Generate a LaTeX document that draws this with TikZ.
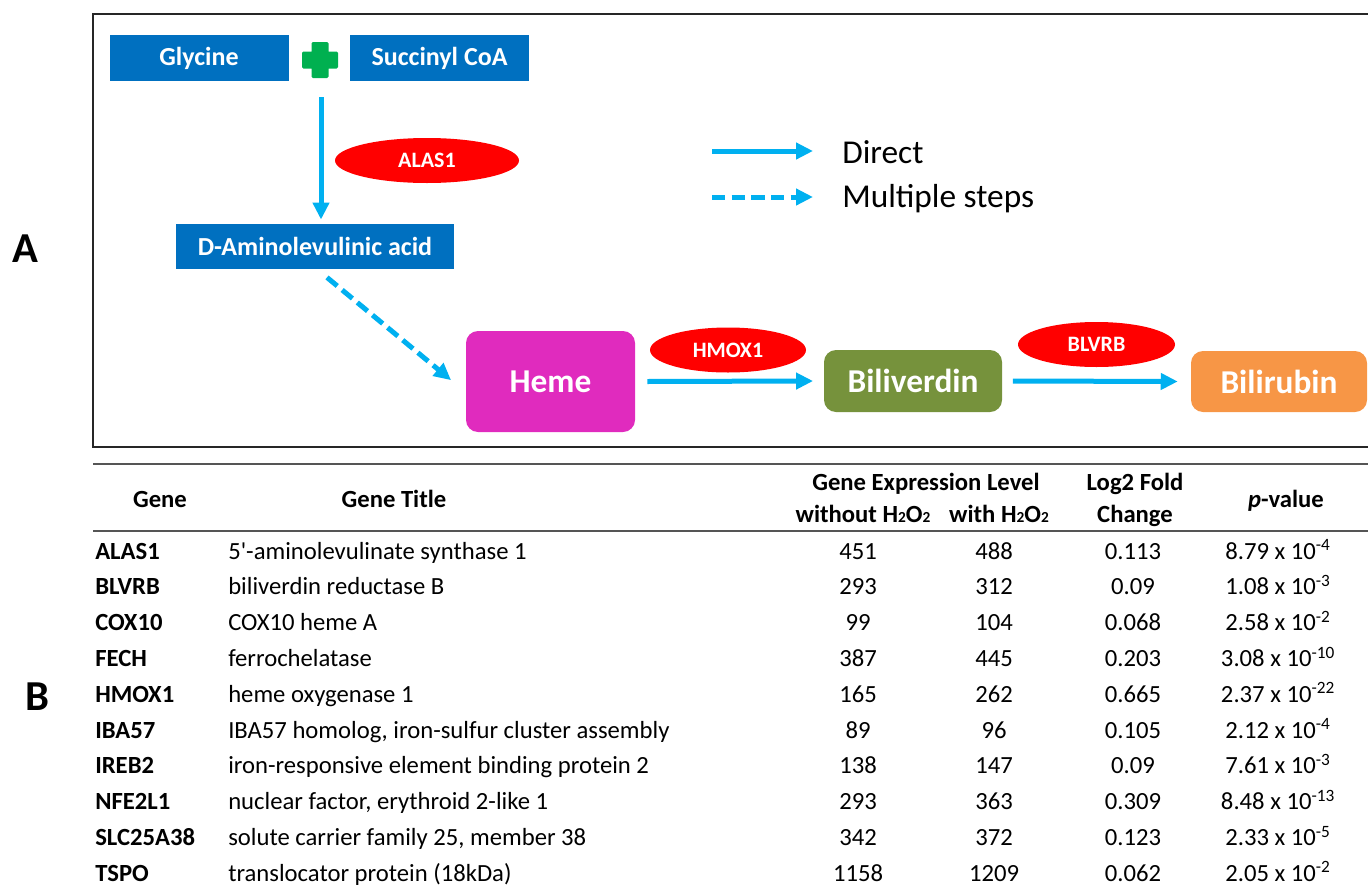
\documentclass[tikz,border=0pt]{standalone}
\usepackage{fontspec}
\setmainfont{Carlito}
\usetikzlibrary{shapes.geometric, arrows.meta, positioning, calc}
\definecolor{molblue}{HTML}{0070C0}
\definecolor{plusgreen}{HTML}{00B050}
\definecolor{flowblue}{HTML}{00B0F0}
\definecolor{hemepink}{HTML}{E02BBE}
\definecolor{bvgreen}{HTML}{76923C}
\definecolor{brorange}{HTML}{F79646}
\definecolor{framegray}{HTML}{262626}
\definecolor{rulegray}{HTML}{555555}
\newcommand{\hto}{H{\fontsize{11.5}{11.5}\selectfont 2}O{\fontsize{11.5}{11.5}\selectfont 2}}
\newcommand{\pval}[2]{#1 x 10\textsuperscript{#2}}
\begin{document}
\begin{tikzpicture}[x=0.75pt,y=-0.75pt]
\tikzset{mol/.style={rectangle, fill=molblue, text=white, inner sep=0pt, minimum height=34pt, font=\bfseries\fontsize{19.5}{22}\selectfont},
enz/.style={ellipse, fill=red, text=white, inner sep=0pt, minimum width=117pt, minimum height=33.75pt, font=\bfseries\fontsize{16.5}{18}\selectfont},
prod/.style={rectangle, rounded corners=9pt, text=white, inner sep=0pt, font=\bfseries\fontsize{25}{28}\selectfont},
flow/.style={draw=flowblue, line width=3.75pt, -{Triangle[length=12.75pt,width=12pt]}},
multi/.style={flow, dash pattern=on 10pt off 4.75pt},
leg/.style={anchor=base west, inner sep=0pt, font=\fontsize{25}{28}\selectfont},
lab/.style={font=\bfseries\fontsize{32}{36}\selectfont},
hd/.style={anchor=base, font=\bfseries\fontsize{18.5}{20}\selectfont},
cell/.style={anchor=base, inner sep=0pt, font=\fontsize{18.5}{20}\selectfont},
gcell/.style={anchor=base west, inner sep=0pt, font=\bfseries\fontsize{18.5}{20}\selectfont},
rule/.style={draw=rulegray, line width=1.5pt}}
\useasboundingbox (0,0) rectangle (1368,889);
\draw[draw=framegray, line width=1.6pt] (1380,14) -- (93,14) -- (93,447) -- (1380,447);
\node[lab] (la) at (25,249) {A};
\node[lab] (lb) at (37,697) {B};
\node[mol, minimum width=134.25pt] (gly) at (199,58) {Glycine};
\node[mol, minimum width=134.25pt] (suc) at (439.5,58) {Succinyl CoA};
\fill[plusgreen, rounded corners=1pt] (311.5,42) rectangle (328.5,78) (302,51.5) rectangle (338,68.5);
\node[mol, minimum width=208.5pt] (ala) at (315,246.5) {D-Aminolevulinic acid};
\node[enz, minimum width=138pt] (alas) at (427,160.5) {ALAS1};
\node[prod, fill=hemepink, minimum width=126.75pt, minimum height=75.75pt] (heme) at (550.5,381.5) {Heme};
\node[enz] (hmox) at (728,350) {HMOX1};
\node[prod, fill=bvgreen, minimum width=133.5pt, minimum height=46.5pt] (bv) at (913,381) {Biliverdin};
\node[enz, minimum width=117.75pt] (blvrb) at (1096.5,344.5) {BLVRB};
\node[prod, fill=brorange, minimum width=132pt, minimum height=45.75pt] (br) at (1279,381.5) {Bilirubin};
\coordinate (join) at (321,97);
\draw[flow, shorten >=3pt] (join) -- (join |- ala.north);
\draw[multi] ([xshift=9pt,yshift=-6pt]ala.south) -- ([xshift=-11pt,yshift=1pt]heme.west);
\draw[flow] ([xshift=9pt]heme.east) -- ([xshift=-8pt]bv.west);
\draw[flow] ([xshift=8pt]bv.east) -- ([xshift=-9.75pt]br.west);
\coordinate (d1) at (712,151); \coordinate (d2) at (813,151);
\coordinate (m1) at (712,197); \coordinate (m2) at (813,197);
\draw[flow] (d1) -- (d2);
\draw[multi] (m1) -- (m2);
\node[leg] (direct) at (842,163) {Direct};
\node[leg] (steps) at (842,207) {Multiple steps};
\draw[rule] (93,464) -- (1368,464);
\draw[rule] (93,531) -- (1368,531);
\node[hd] (hgene) at (160,507) {Gene};
\node[hd] (htitle) at (394,507) {Gene Title};
\node[hd] (hexp) at (926,490) {Gene Expression Level};
\node[hd] (hwo) at (863,522) {without \hto};
\node[hd] (hwi) at (999,522) {with \hto};
\node[hd] (hlog) at (1135,490) {Log2 Fold};
\node[hd] (hchg) at (1135,522) {Change};
\node[hd] (hp) at (1286,507) {\textit{p}-value};
\foreach \gname/\gtitle/\vwo/\vwi/\lfc/\pbase/\pexp [count=\i from 0] in {
ALAS1/5\textquotesingle-aminolevulinate synthase 1/451/488/0.113/8.79/-4,
BLVRB/biliverdin reductase B/293/312/0.09/1.08/-3,
COX10/COX10 heme A/99/104/0.068/2.58/-2,
FECH/ferrochelatase/387/445/0.203/3.08/-10,
HMOX1/heme oxygenase 1/165/262/0.665/2.37/-22,
IBA57/{IBA57 homolog, iron-sulfur cluster assembly}/89/96/0.105/2.12/-4,
IREB2/iron-responsive element binding protein 2/138/147/0.09/7.61/-3,
NFE2L1/{nuclear factor, erythroid 2-like 1}/293/363/0.309/8.48/-13,
SLC25A38/{solute carrier family 25, member 38}/342/372/0.123/2.33/-5,
TSPO/translocator protein (18kDa)/1158/1209/0.062/2.05/-2}
{
\node[gcell] (g\i) at (95,{559+35.8*\i}) {\gname};
\node[cell, anchor=base west] (t\i) at (228,{559+35.8*\i}) {\gtitle};
\node[cell] (a\i) at (858,{559+35.8*\i}) {\vwo};
\node[cell] (b\i) at (994,{559+35.8*\i}) {\vwi};
\node[cell] (c\i) at (1133,{559+35.8*\i}) {\lfc};
\node[cell] (p\i) at (1278,{559+35.8*\i}) {\pval{\pbase}{\pexp}};
}
\end{tikzpicture}
\end{document}
